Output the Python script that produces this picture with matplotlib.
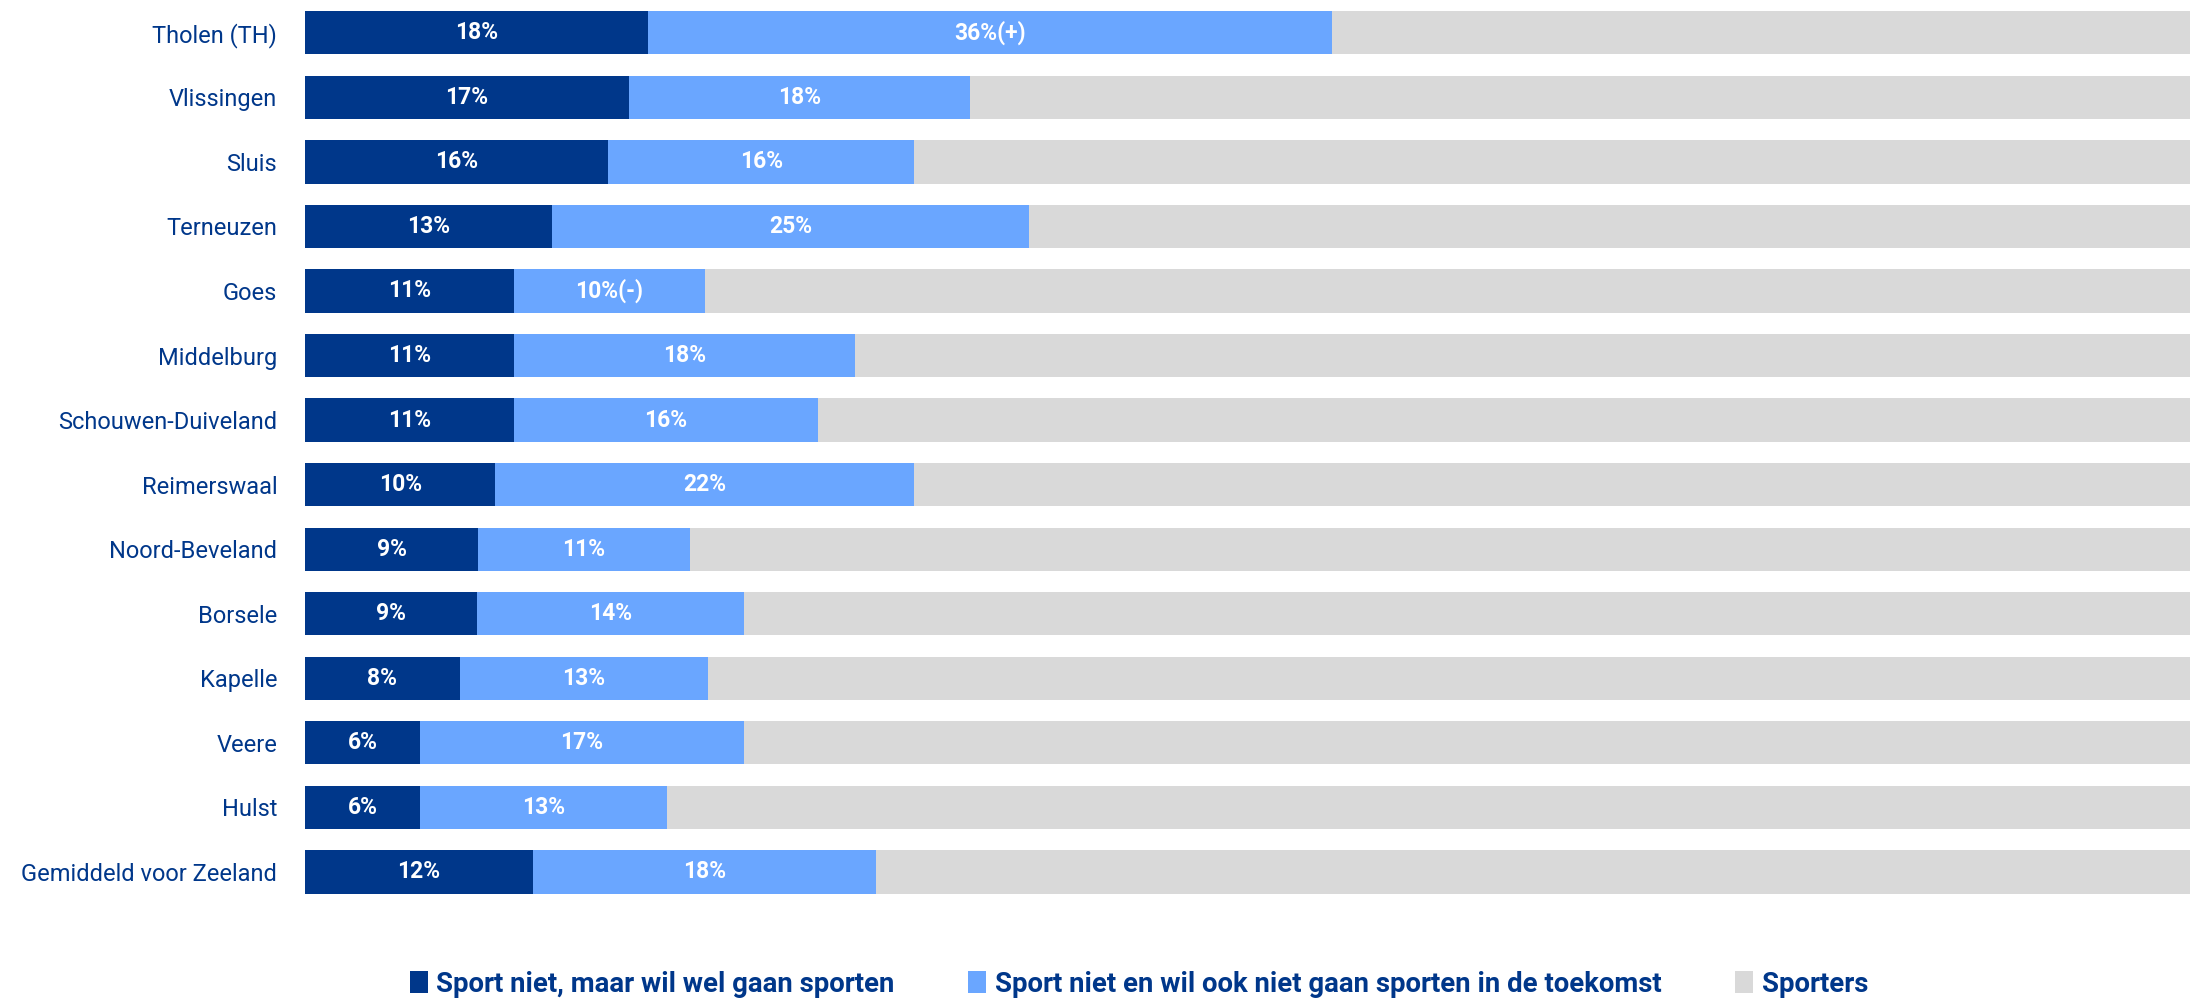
import matplotlib.pyplot as plt

plt.rcParams['font.family'] = ['Roboto', 'DejaVu Sans']

gemeenten = ['Tholen (TH)', 'Vlissingen', 'Sluis', 'Terneuzen', 'Goes', 'Middelburg',
             'Schouwen-Duiveland', 'Reimerswaal', 'Noord-Beveland', 'Borsele', 'Kapelle',
             'Veere', 'Hulst', 'Gemiddeld voor Zeeland']
wil_wel = [18.2, 17.2, 16.1, 13.1, 11.1, 11.1, 11.1, 10.1, 9.2, 9.1, 8.2, 6.1, 6.1, 12.1]
wil_niet = [36.3, 18.1, 16.2, 25.3, 10.1, 18.1, 16.1, 22.2, 11.2, 14.2, 13.2, 17.2, 13.1, 18.2]
labels_wel = ['18%', '17%', '16%', '13%', '11%', '11%', '11%', '10%', '9%', '9%', '8%', '6%', '6%', '12%']
labels_niet = ['36%(+)', '18%', '16%', '25%', '10%(-)', '18%', '16%', '22%', '11%', '14%', '13%', '17%', '13%', '18%']
sporters = [100 - a - b for a, b in zip(wil_wel, wil_niet)]

donker = '#00378A'
licht = '#6AA6FF'
grijs = '#D9D9D9'

fig = plt.figure(figsize=(21.9, 10), dpi=100)
ax = fig.add_axes([305 / 2190, 0.0945, 1 - 305 / 2190, 0.905])

y = list(range(len(gemeenten)))
h = 0.67
ax.barh(y, wil_wel, height=h, color=donker, label='Sport niet, maar wil wel gaan sporten')
ax.barh(y, wil_niet, left=wil_wel, height=h, color=licht,
        label='Sport niet en wil ook niet gaan sporten in de toekomst')
left2 = [a + b for a, b in zip(wil_wel, wil_niet)]
ax.barh(y, sporters, left=left2, height=h, color=grijs, label='Sporters')

for i in y:
    ax.text(wil_wel[i] / 2, i, labels_wel[i], ha='center', va='center',
            color='white', fontsize=16.5, fontweight='bold')
    ax.text(wil_wel[i] + wil_niet[i] / 2, i, labels_niet[i], ha='center', va='center',
            color='white', fontsize=16.5, fontweight='bold')

ax.set_xlim(0, 100)
ax.set_ylim(len(gemeenten) - 0.48, -0.5)
ax.set_yticks(y)
ax.set_yticklabels(gemeenten, fontsize=17, color=donker)
ax.tick_params(axis='y', length=0, pad=20)
ax.set_xticks([])
for s in ax.spines.values():
    s.set_visible(False)

leg = fig.legend(loc='center', bbox_to_anchor=(0.52, 0.016), ncol=3, frameon=False,
                 handlelength=0.65, handleheight=0.85, handletextpad=0.3, columnspacing=2.7,
                 prop={'size': 19.8, 'weight': 'bold'})
for t in leg.get_texts():
    t.set_color(donker)

fig.savefig('out.png', dpi=100)
